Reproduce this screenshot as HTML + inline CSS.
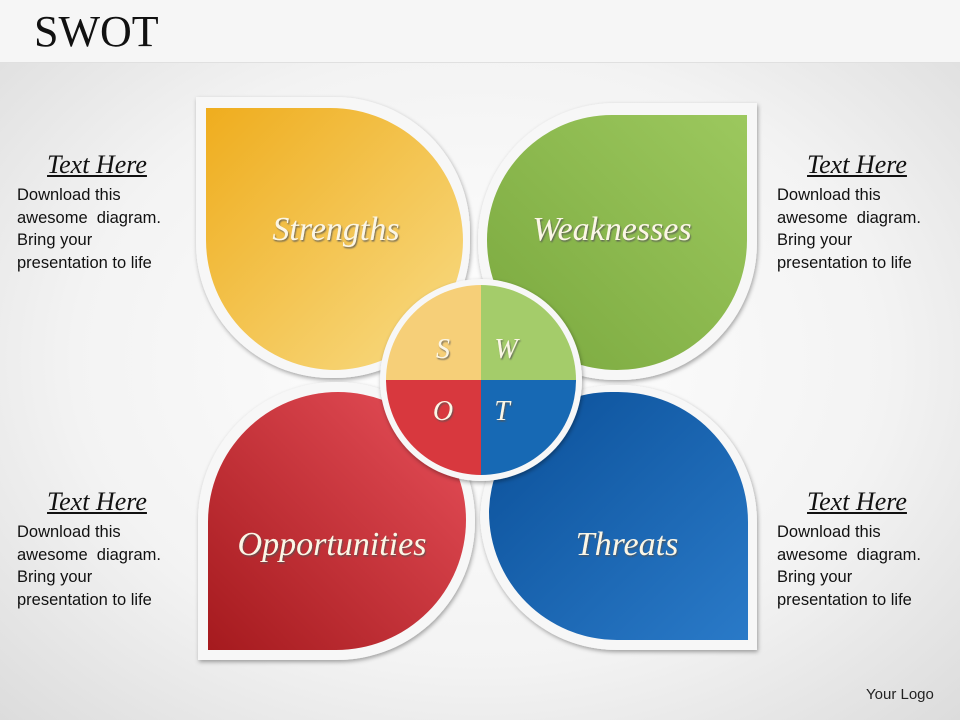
<!DOCTYPE html>
<html><head><style>
body{margin:0;width:960px;height:720px;overflow:hidden;font-family:"Liberation Sans",sans-serif;}
.bg{position:absolute;left:0;top:0;width:960px;height:720px;background:radial-gradient(ellipse at 50% 50%,#ffffff 0%,#f3f3f3 60%,#dcdcdc 100%);}
.hdr{position:absolute;left:0;top:0;width:960px;height:62px;background:#f6f6f6;border-bottom:1px solid #e0e0e0;}
.title{position:absolute;left:34px;top:6px;font-family:"Liberation Serif",serif;font-size:44px;color:#111;}
.tb{position:absolute;width:180px;font-size:16.5px;line-height:22.5px;color:#111;}
.tb h{display:block;font-family:"Liberation Serif",serif;font-style:italic;font-size:26px;text-decoration:underline;text-align:center;width:160px;margin-bottom:4px;line-height:30px;}
.logo{position:absolute;left:866px;top:686px;font-size:15px;color:#222;}
</style></head><body>
<div class="bg"></div>
<div class="hdr"></div>
<div class="title">SWOT</div>
<div class="tb" style="left:17px;top:150px"><h>Text Here</h>Download this<br>awesome&nbsp; diagram.<br>Bring your<br>presentation to life</div>
<div class="tb" style="left:777px;top:150px"><h>Text Here</h>Download this<br>awesome&nbsp; diagram.<br>Bring your<br>presentation to life</div>
<div class="tb" style="left:17px;top:487px"><h>Text Here</h>Download this<br>awesome&nbsp; diagram.<br>Bring your<br>presentation to life</div>
<div class="tb" style="left:777px;top:487px"><h>Text Here</h>Download this<br>awesome&nbsp; diagram.<br>Bring your<br>presentation to life</div>
<div class="logo">Your Logo</div>
<svg width="960" height="720" style="position:absolute;left:0;top:0">
<defs>
<linearGradient id="gy" x1="0" y1="0" x2="1" y2="1"><stop offset="0" stop-color="#efad1e"/><stop offset="1" stop-color="#f8dc86"/></linearGradient>
<linearGradient id="gg" x1="1" y1="0" x2="0" y2="1"><stop offset="0" stop-color="#9cc85e"/><stop offset="1" stop-color="#7aa83e"/></linearGradient>
<linearGradient id="gr" x1="0" y1="1" x2="1" y2="0"><stop offset="0" stop-color="#a51a1e"/><stop offset="1" stop-color="#e8505a"/></linearGradient>
<linearGradient id="gb" x1="1" y1="1" x2="0" y2="0"><stop offset="0" stop-color="#2a7ac8"/><stop offset="1" stop-color="#0a4f98"/></linearGradient>
<filter id="sh"><feDropShadow dx="1" dy="2" stdDeviation="2" flood-color="#000" flood-opacity="0.35"/></filter>
<filter id="ts"><feDropShadow dx="1" dy="1.5" stdDeviation="0.8" flood-color="#555" flood-opacity="0.8"/></filter>
</defs>
<path filter="url(#sh)" fill="#f7f7f7" d="M196,97 H335 A135,135 0 0 1 470,232 V243 A135,135 0 0 1 335,378 H331 A135,135 0 0 1 196,243 Z"/>
<path fill="url(#gy)" d="M206,108 H330 A133,133 0 0 1 463,241 V240 A130,130 0 0 1 333,370 H336 A130,130 0 0 1 206,240 Z"/>
<path filter="url(#sh)" fill="#f7f7f7" d="M757,103 V243 A137,137 0 0 1 620,380 H615 A137,137 0 0 1 478,243 V240 A137,137 0 0 1 615,103 Z"/>
<path fill="url(#gg)" d="M747,115 V240 A130,130 0 0 1 617,370 H618 A130,130 0 0 1 487,240 A125,125 0 0 1 612,115 Z"/>
<path filter="url(#sh)" fill="#f7f7f7" d="M198,660 V520 A138,138 0 0 1 336,382 H337 A138,138 0 0 1 475,520 V522 A138,138 0 0 1 337,660 Z"/>
<path fill="url(#gr)" d="M208,650 V522 A130,130 0 0 1 338,392 A128,128 0 0 1 466,520 A130,130 0 0 1 336,650 Z"/>
<path filter="url(#sh)" fill="#f7f7f7" d="M757,650 H617 A137,137 0 0 1 480,513 V522 A137,137 0 0 1 617,385 H620 A137,137 0 0 1 757,522 Z"/>
<path fill="url(#gb)" d="M748,640 H617 A128,128 0 0 1 489,512 A122,122 0 0 1 611,392 H618 A130,130 0 0 1 748,522 Z"/>
<circle cx="481" cy="380" r="101" fill="#f7f7f7" filter="url(#sh)"/>
<clipPath id="cc"><circle cx="481" cy="380" r="95"/></clipPath>
<g clip-path="url(#cc)">
<rect x="380" y="280" width="101" height="100" fill="#f6cf78"/>
<rect x="481" y="280" width="101" height="100" fill="#a4cc6a"/>
<rect x="380" y="380" width="101" height="101" fill="#d8383e"/>
<rect x="481" y="380" width="101" height="101" fill="#1769b4"/>
</g>
<g font-family="Liberation Serif,serif" font-style="italic" fill="#fbf6e6" filter="url(#ts)">
<text x="336" y="240" font-size="34" text-anchor="middle">Strengths</text>
<text x="612" y="240" font-size="34" text-anchor="middle">Weaknesses</text>
<text x="332" y="555" font-size="34" text-anchor="middle">Opportunities</text>
<text x="627" y="555" font-size="34" text-anchor="middle">Threats</text>
<text x="443" y="358" font-size="28" text-anchor="middle">S</text>
<text x="506" y="358" font-size="28" text-anchor="middle">W</text>
<text x="443" y="420" font-size="28" text-anchor="middle">O</text>
<text x="502" y="420" font-size="28" text-anchor="middle">T</text>
</g>
</svg>
</body></html>
